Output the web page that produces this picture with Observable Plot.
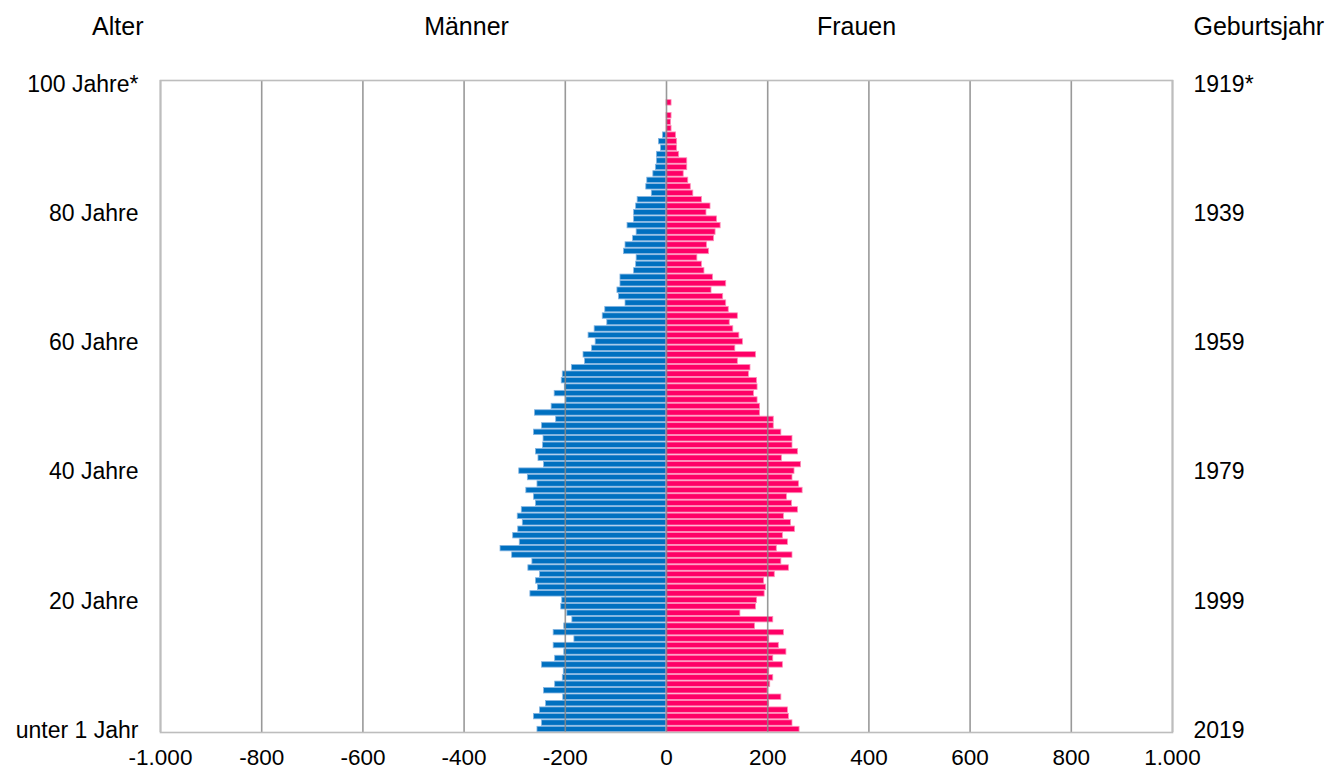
<!DOCTYPE html>
<html>
<head>
<meta charset="utf-8">
<script src="https://cdn.jsdelivr.net/npm/d3@7"></script>
<script src="https://cdn.jsdelivr.net/npm/@observablehq/plot@0.6"></script>
<style>
  html, body { margin: 0; padding: 0; background: #fff; }
</style>
</head>
<body>
<div id="chart"></div>
<script>
// Ages 0..100 (index = age)
const ages = d3.range(0, 101);

// Männer (Tausend), index = Alter
const males = [
  255, 246, 262, 250, 238, 204, 242, 220, 205, 203,
  246, 220, 202, 223, 182, 223, 202, 186, 196, 208,
  206, 269, 254, 258, 250, 273, 265, 305, 328, 290,
  303, 293, 284, 294, 286, 258, 262, 277, 255, 274,
  291, 242, 253, 258, 244, 243, 262, 246, 218, 260,
  227, 198, 221, 201, 207, 205, 187, 161, 164, 147,
  140, 154, 142, 117, 126, 121, 81, 94, 97, 91,
  91, 64, 60, 59, 84, 81, 66, 59, 77, 64,
  64, 60, 57, 29, 40, 38, 26, 21, 19, 19,
  11, 15, 7, 0, 0, 0, 0, 0, 0, 0,
  0
];

// Frauen (Tausend), index = Alter
const females = [
  263, 249, 242, 240, 203, 227, 200, 205, 211, 203,
  230, 211, 237, 222, 203, 232, 175, 211, 146, 177,
  179, 194, 197, 193, 214, 242, 227, 249, 218, 240,
  230, 254, 246, 232, 260, 248, 238, 269, 262, 249,
  253, 266, 228, 260, 249, 249, 227, 212, 212, 185,
  185, 180, 173, 180, 179, 163, 166, 141, 177, 136,
  151, 144, 132, 125, 141, 123, 118, 112, 89, 118,
  92, 75, 70, 61, 84, 80, 94, 97, 107, 100,
  79, 87, 70, 53, 48, 43, 34, 41, 41, 25,
  21, 21, 19, 10, 9, 10, 0, 10, 0, 0,
  0
];

const xTicks = [-1000, -800, -600, -400, -200, 0, 200, 400, 600, 800, 1000];
const ageTicks = [100, 80, 60, 40, 20, 0];
const ageTickLabels = ["100 Jahre*", "80 Jahre", "60 Jahre", "40 Jahre", "20 Jahre", "unter 1 Jahr"];
const yearTickLabels = ["1919*", "1939", "1959", "1979", "1999", "2019"];
const headers = ["Alter", "Männer", "Frauen", "Geburtsjahr"];

const maleColor = "#0070C0", maleEdge = "#86b6e2";
const femaleColor = "#FF0066", femaleEdge = "#ff8cb8";

const de = d3.formatLocale({decimal: ",", thousands: ".", grouping: [3], currency: ["", " €"], minus: "-"});
const fmt = de.format(",d");

const rows = ages.flatMap((a, i) => [
  {age: a, sex: "Männer", value: -males[i]},
  {age: a, sex: "Frauen", value: females[i]}
]);

const ageLabel = new Map(ageTicks.map((a, i) => [a, ageTickLabels[i]]));
const yearLabel = new Map(ageTicks.map((a, i) => [a, yearTickLabels[i]]));

const chart = Plot.plot({
  width: 1332,
  height: 771,
  marginLeft: 160,
  marginRight: 160,
  marginTop: 80,
  marginBottom: 39,
  style: {fontFamily: "'Liberation Sans', Arial, sans-serif", fontSize: "23px", color: "#000", background: "#fff"},
  x: {domain: [-1000, 1000], label: null},
  y: {type: "band", domain: ages.slice().reverse(), paddingInner: 0.16, paddingOuter: 0.04, label: null},
  marks: [
    Plot.barX(rows, {
      y: "age", x1: 0, x2: "value",
      fill: d => d.sex === "Männer" ? maleColor : femaleColor,
      stroke: d => d.sex === "Männer" ? maleEdge : femaleEdge,
      strokeWidth: 0.8
    }),
    Plot.gridX(xTicks, {stroke: "#878787", strokeOpacity: 0.85, strokeWidth: 1.6}),
    Plot.frame({stroke: "#bdbdbd", strokeWidth: 1.6}),
    Plot.axisX(xTicks, {tickSize: 0, tickPadding: 17, tickFormat: fmt, fontSize: 22.5}),
    Plot.axisY(ageTicks, {anchor: "left", tickSize: 0, tickPadding: 22, tickFormat: d => ageLabel.get(d), fontSize: 23, dy: 1}),
    Plot.axisY(ageTicks, {anchor: "right", tickSize: 0, tickPadding: 21, tickFormat: d => yearLabel.get(d), fontSize: 23, dy: 1}),
    Plot.text([headers[0]], {frameAnchor: "top-left", text: d => d, textAnchor: "end", lineAnchor: "middle", dx: -17, dy: -54, fontSize: 25}),
    Plot.text([headers[1]], {frameAnchor: "top", text: d => d, textAnchor: "middle", lineAnchor: "middle", dx: -200, dy: -54, fontSize: 25}),
    Plot.text([headers[2]], {frameAnchor: "top", text: d => d, textAnchor: "middle", lineAnchor: "middle", dx: 190, dy: -54, fontSize: 25}),
    Plot.text([headers[3]], {frameAnchor: "top-right", text: d => d, textAnchor: "start", lineAnchor: "middle", dx: 21, dy: -54, fontSize: 25})
  ]
});

document.getElementById("chart").appendChild(chart);
</script>
</body>
</html>
